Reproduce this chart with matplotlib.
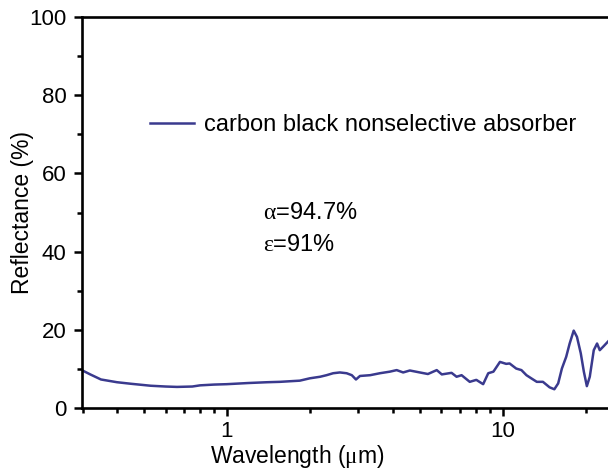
import matplotlib
matplotlib.use("Agg")
import matplotlib.pyplot as plt
from matplotlib.ticker import LogLocator, FixedLocator, NullFormatter, FuncFormatter

plt.rcParams['font.family'] = ['Liberation Sans', 'DejaVu Sans']
plt.rcParams['mathtext.fontset'] = 'custom'
plt.rcParams['mathtext.rm'] = 'Liberation Serif'
plt.rcParams['mathtext.it'] = 'Liberation Serif'
plt.rcParams['mathtext.default'] = 'rm'

wavelength = [0.30, 0.32, 0.35, 0.40, 0.45, 0.53, 0.60, 0.66, 0.75, 0.80,
              0.90, 1.0, 1.2, 1.4, 1.56, 1.74, 1.84, 2.0, 2.18, 2.3,
              2.43, 2.57, 2.72, 2.84, 2.94, 3.04, 3.31, 3.59, 3.9, 4.13,
              4.36, 4.61, 5.01, 5.36, 5.77, 6.02, 6.53, 6.81, 7.1, 7.6,
              8.03, 8.5, 8.87, 9.26, 9.78, 10.3, 10.6, 11.2, 11.7, 12.2,
              12.7, 13.3, 14.0, 14.8, 15.4, 15.9, 16.4, 17.0, 17.5, 18.1,
              18.6, 19.2, 19.7, 20.2, 20.7, 21.4, 22.0, 22.5, 23.3, 24.1]
reflectance = [9.6, 8.6, 7.3, 6.6, 6.2, 5.7, 5.5, 5.4, 5.5, 5.8,
               6.0, 6.1, 6.4, 6.6, 6.7, 6.9, 7.0, 7.6, 8.0, 8.4,
               8.9, 9.1, 8.9, 8.4, 7.3, 8.2, 8.4, 8.9, 9.3, 9.7,
               9.1, 9.6, 9.1, 8.7, 9.7, 8.6, 9.0, 8.0, 8.4, 6.7,
               7.2, 6.1, 8.9, 9.3, 11.8, 11.3, 11.4, 10.1, 9.7, 8.4,
               7.6, 6.7, 6.7, 5.3, 4.8, 6.3, 10.1, 13.1, 16.5, 19.8,
               18.2, 14.0, 9.3, 5.6, 8.0, 14.8, 16.5, 14.8, 15.9, 17.0]
series_label = "carbon black nonselective absorber"
annot_alpha = r"$\alpha$=94.7%"
annot_eps = r"$\varepsilon$=91%"
y_ticks = [0, 20, 40, 60, 80, 100]
x_ticks = [1, 10]

fig = plt.figure(figsize=(6.08, 4.75), dpi=100)
ax = fig.add_axes([0.1344, 0.141, 0.8656, 0.823])

line_color = '#3a3a8e'
ax.plot(wavelength, reflectance, color=line_color, lw=1.8, label=series_label)

ax.set_xscale('log')
ax.set_xlim(0.298, 24.1)
ax.set_ylim(0, 100)

ax.xaxis.set_major_locator(FixedLocator(x_ticks))
ax.xaxis.set_major_formatter(FuncFormatter(lambda v, p: f"{v:g}"))
ax.xaxis.set_minor_locator(LogLocator(base=10, subs=range(2, 10)))
ax.xaxis.set_minor_formatter(NullFormatter())
ax.set_yticks(y_ticks)
ax.set_yticks([10, 30, 50, 70, 90], minor=True)

ax.tick_params(which='major', direction='out', length=6, width=1.8, labelsize=16, pad=5)
ax.tick_params(which='minor', direction='out', length=3.5, width=1.8)
ax.tick_params(axis='x', which='major', pad=3.5)

for s in ['left', 'bottom', 'top']:
    ax.spines[s].set_linewidth(1.9)
ax.spines['right'].set_visible(False)

ax.set_xlabel("Wavelength ($\\mu$m)", fontsize=16.5)
ax.xaxis.set_label_coords(0.409, -0.09)
ax.set_ylabel("Reflectance (%)", fontsize=16.5)
ax.yaxis.set_label_coords(-0.091, 0.5)

ax.legend(loc='center left', bbox_to_anchor=(0.13, 0.724), frameon=False,
          fontsize=17, handlelength=1.85, handletextpad=0.45,
          borderpad=0, borderaxespad=0)

ax.text(0.345, 0.499, annot_alpha, transform=ax.transAxes, fontsize=17, va='center', ha='left')
ax.text(0.345, 0.418, annot_eps, transform=ax.transAxes, fontsize=17, va='center', ha='left')

fig.savefig("out.png", dpi=100)
